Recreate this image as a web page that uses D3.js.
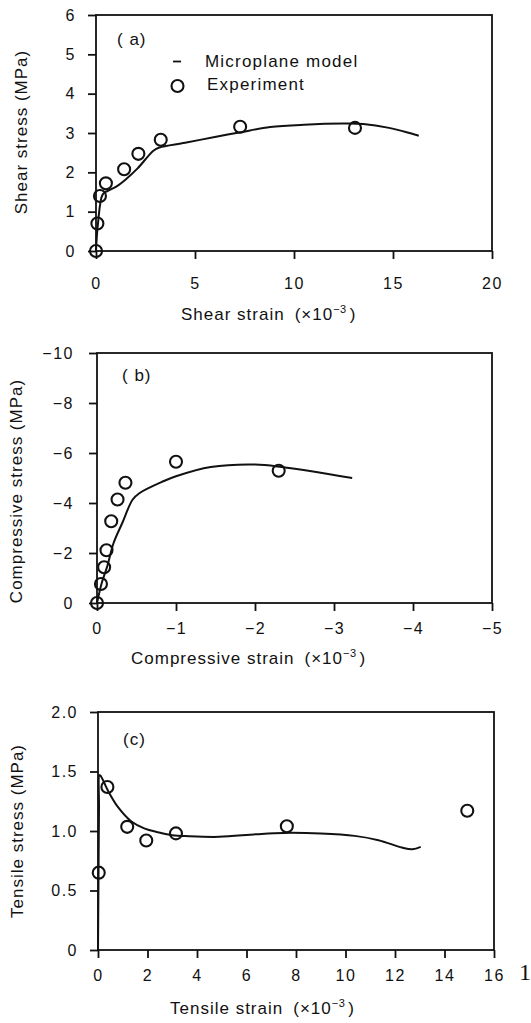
<!DOCTYPE html>
<html>
<head>
<meta charset="utf-8">
<script src="https://cdn.jsdelivr.net/npm/d3@7"></script>
<style>
  body { margin: 0; background: #fff; }
  svg text { font-family: "Liberation Sans", Arial, sans-serif; fill: #111; }
</style>
</head>
<body>
<svg id="chart" width="531" height="1023"></svg>
<script>
// (a) shear: strain x1e-3, stress MPa
var shearModel = [[0,0],[0.1,0.7],[0.34,1.44],[0.6,1.53],[1.0,1.63],[1.5,1.82],[2.1,2.1],[2.9,2.55],[3.2,2.63],
  [4.5,2.75],[6,2.9],[7.3,3.02],[8.8,3.15],[10.5,3.21],[12.5,3.24],[13.5,3.23],[14.8,3.13],[16.3,2.93]];
var shearExp = [[0,0],[0.07,0.7],[0.2,1.4],[0.5,1.72],[1.42,2.08],[2.14,2.47],[3.27,2.83],[7.28,3.16],[13.08,3.13]];
var shearTicksX = [0,5,10,15,20];
var shearTicksY = [0,1,2,3,4,5,6];

// (b) compression
var compModel = [[0,0],[-0.06,-0.8],[-0.13,-1.47],[-0.21,-2.4],[-0.32,-3.2],[-0.45,-4.13],[-0.54,-4.4],[-0.84,-4.87],
  [-1.0,-5.07],[-1.44,-5.44],[-2.0,-5.54],[-2.34,-5.44],[-3.23,-5.0]];
var compExp = [[0,0],[-0.05,-0.76],[-0.09,-1.43],[-0.12,-2.11],[-0.18,-3.27],[-0.26,-4.14],[-0.36,-4.81],[-1.0,-5.65],[-2.3,-5.29]];
var compTicksX = [0,-1,-2,-3,-4,-5];
var compTicksY = [0,-2,-4,-6,-8,-10];

// (c) tension
var tensModel = [[0,0],[0.02,0.6],[0.04,1.2],[0.06,1.47],[0.12,1.46],[0.4,1.34],[0.81,1.2],[1.35,1.08],[1.89,1.02],
  [2.42,0.99],[3.0,0.965],[3.67,0.956],[4.9,0.951],[6.4,0.973],[7.5,0.984],[9.0,0.979],[10.37,0.959],[11.33,0.923],
  [12.28,0.861],[12.7,0.847],[13.04,0.867]];
var tensExp = [[0.03,0.65],[0.38,1.37],[1.18,1.035],[1.95,0.92],[3.15,0.98],[7.63,1.04],[14.92,1.17]];
var tensTicksX = [0,2,4,6,8,10,12,14,16];
var tensTicksY = [0,0.5,1.0,1.5,2.0];

var legendLabels = ["Microplane model", "Experiment"];

var svg = d3.select("#chart");
var ink = "#111";

var panels = [
  { tag: "( a)", model: shearModel, exp: shearExp, xTicks: shearTicksX, yTicks: shearTicksY,
    xDomain: [0, 20], yDomain: [0, 6], fmtY: d3.format("d"),
    left: 96, right: 492, top: 15, bottom: 251, xPad: 19, yPad: 12,
    tagX: 117, tagY: 45, xTitle: "Shear strain", xTitleX: 181, xTitleY: 320,
    yTitle: "Shear stress (MPa)", yTitleX: 21, yTitleY: 132 },
  { tag: "( b)", model: compModel, exp: compExp, xTicks: compTicksX, yTicks: compTicksY,
    xDomain: [0, -5], yDomain: [0, -10], fmtY: d3.format("d"),
    left: 97, right: 492, top: 353, bottom: 603, xPad: 12, yPad: 15,
    tagX: 122, tagY: 381, xTitle: "Compressive strain", xTitleX: 131, xTitleY: 664,
    yTitle: "Compressive stress (MPa)", yTitleX: 16, yTitleY: 491 },
  { tag: "(c)", model: tensModel, exp: tensExp, xTicks: tensTicksX, yTicks: tensTicksY,
    xDomain: [0, 16], yDomain: [0, 2], fmtY: function (d) { return d === 0 ? "0" : d3.format(".1f")(d); },
    left: 98, right: 494, top: 712, bottom: 950, xPad: 12, yPad: 12,
    tagX: 123, tagY: 745, xTitle: "Tensile strain", xTitleX: 170, xTitleY: 1014,
    yTitle: "Tensile stress (MPa)", yTitleX: 17, yTitleY: 831 }
];

panels.forEach(drawPanel);

function drawPanel(p) {
  var x = d3.scaleLinear().domain(p.xDomain).range([p.left, p.right]);
  var y = d3.scaleLinear().domain(p.yDomain).range([p.bottom, p.top]);
  var g = svg.append("g");

  var xa = g.append("g")
    .attr("transform", "translate(0," + p.bottom + ")")
    .call(d3.axisBottom(x).tickValues(p.xTicks).tickFormat(d3.format("d")).tickSize(8).tickPadding(p.xPad));
  var ya = g.append("g")
    .attr("transform", "translate(" + p.left + ",0)")
    .call(d3.axisLeft(y).tickValues(p.yTicks).tickFormat(p.fmtY).tickSize(8).tickPadding(p.yPad));
  [xa, ya].forEach(function (a) {
    a.select(".domain").remove();
    a.selectAll("line").attr("stroke", ink).attr("stroke-width", 1.8);
    a.selectAll("text")
      .attr("font-family", "Liberation Sans, Arial, sans-serif")
      .attr("font-size", 16)
      .attr("letter-spacing", 1.5)
      .attr("fill", ink);
  });

  // box
  g.append("rect")
    .attr("x", p.left).attr("y", p.top)
    .attr("width", p.right - p.left).attr("height", p.bottom - p.top)
    .attr("fill", "none").attr("stroke", ink).attr("stroke-width", 1.8);

  var line = d3.line()
    .x(function (d) { return x(d[0]); })
    .y(function (d) { return y(d[1]); })
    .curve(d3.curveCatmullRom.alpha(0.5));
  g.append("path")
    .datum(p.model)
    .attr("d", line)
    .attr("fill", "none").attr("stroke", ink).attr("stroke-width", 2);

  g.selectAll("circle.exp")
    .data(p.exp)
    .enter().append("circle")
    .attr("class", "exp")
    .attr("cx", function (d) { return x(d[0]); })
    .attr("cy", function (d) { return y(d[1]); })
    .attr("r", 6)
    .attr("fill", "none").attr("stroke", ink).attr("stroke-width", 2.1);

  g.append("text").attr("x", p.tagX).attr("y", p.tagY)
    .attr("font-size", 17).attr("letter-spacing", 1).text(p.tag);

  var t = g.append("text").attr("x", p.xTitleX).attr("y", p.xTitleY)
    .attr("font-size", 17).attr("letter-spacing", 1);
  t.append("tspan").text(p.xTitle);
  t.append("tspan").attr("dx", 10).text("(\u00d710");
  t.append("tspan").attr("font-size", 11).attr("dy", -7).attr("letter-spacing", 0.5).text("\u22123");
  t.append("tspan").attr("dy", 7).attr("dx", 3).text(")");

  g.append("text")
    .attr("transform", "translate(" + p.yTitleX + "," + p.yTitleY + ") rotate(-90)")
    .attr("text-anchor", "middle").attr("dy", "0.35em")
    .attr("font-size", 17).attr("letter-spacing", 1)
    .text(p.yTitle);
}

// legend in panel (a)
var lg = svg.append("g");
lg.append("line").attr("x1", 173).attr("x2", 181).attr("y1", 61.5).attr("y2", 61.5)
  .attr("stroke", ink).attr("stroke-width", 1.8);
lg.append("circle").attr("cx", 177.5).attr("cy", 86).attr("r", 6)
  .attr("fill", "none").attr("stroke", ink).attr("stroke-width", 2.1);
lg.selectAll("text.leg")
  .data(legendLabels)
  .enter().append("text")
  .attr("class", "leg")
  .attr("x", function (d, i) { return i === 0 ? 205 : 207; })
  .attr("y", function (d, i) { return i === 0 ? 67 : 90; })
  .attr("font-size", 17).attr("letter-spacing", 1.2)
  .text(function (d) { return d; });

// stray page number fragment at the right of panel (c)
svg.append("text").attr("x", 519).attr("y", 980)
  .attr("font-size", 24)
  .style("font-family", "Liberation Serif, serif")
  .text("1");
</script>
</body>
</html>
